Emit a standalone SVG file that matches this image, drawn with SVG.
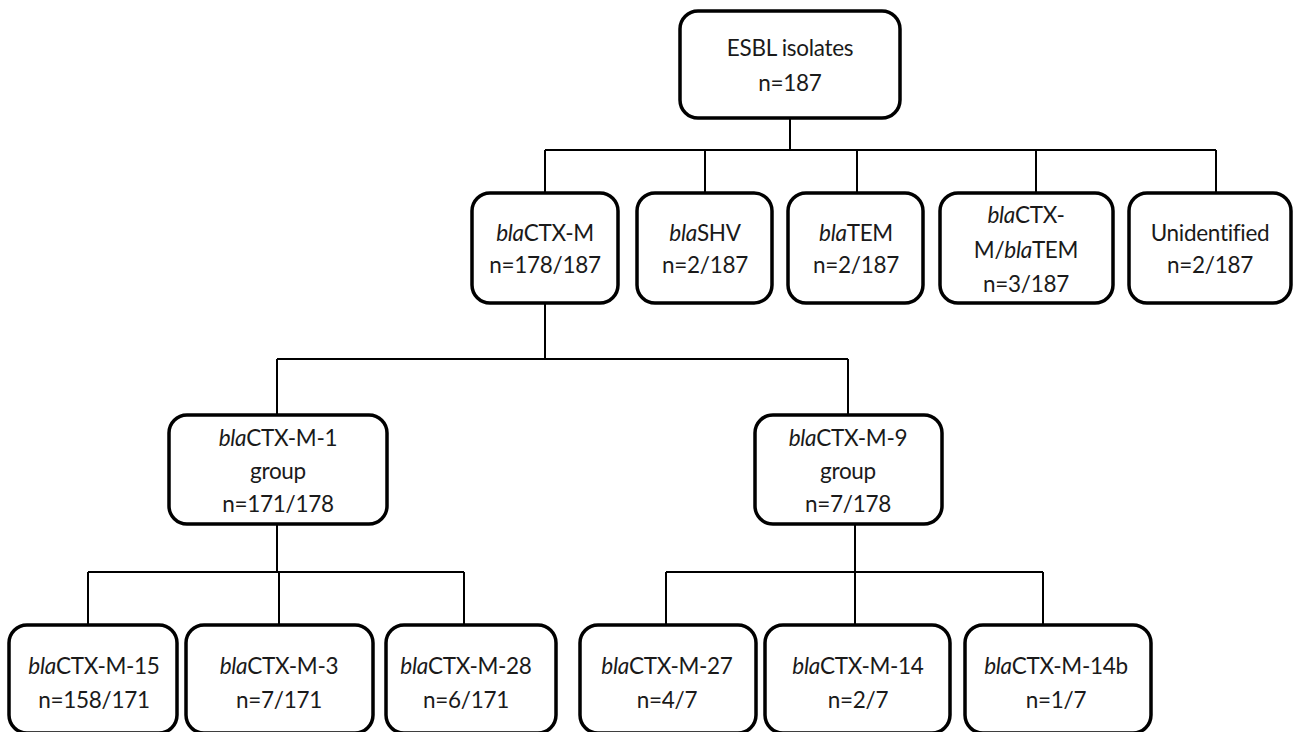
<svg xmlns="http://www.w3.org/2000/svg" width="1293" height="732" viewBox="0 0 1293 732">
<style>
.box{fill:#fff;stroke:#000;stroke-width:3.5}
.ln{fill:none;stroke:#000;stroke-width:2}
text{font-family:Lato,"Liberation Sans",Arial,sans-serif;font-size:22.5px;letter-spacing:-0.3px;fill:#1a1a1a;text-anchor:middle}
.i{font-style:italic}
</style>
<rect width="1293" height="732" fill="#fff"/>
<g id="connectors">
<path class="ln" d="M790 118V150M545 150H1216M545 150V193M705 150V193M857 150V193M1036 150V193M1216 150V193"/>
<path class="ln" d="M545 303V359M277 359H848M277 359V415M848 359V415"/>
<path class="ln" d="M277 524V572M88 572H464M88 572V625M279 572V625M464 572V625"/>
<path class="ln" d="M855 524V625M666 572H1043M666 572V625M1043 572V625"/>
</g>
<g id="esbl"><rect class="box" x="680" y="11" width="220" height="107" rx="18"/><text x="790" y="56">ESBL isolates</text><text x="790" y="91">n=187</text></g>
<g id="ctxm"><rect class="box" x="472" y="193" width="146" height="110" rx="18"/><text x="545" y="241"><tspan class="i">bla</tspan>CTX-M</text><text x="545" y="273">n=178/187</text></g>
<g id="shv"><rect class="box" x="637" y="193" width="135" height="110" rx="18"/><text x="705" y="241"><tspan class="i">bla</tspan>SHV</text><text x="705" y="273">n=2/187</text></g>
<g id="tem"><rect class="box" x="788" y="193" width="135" height="110" rx="18"/><text x="856" y="241"><tspan class="i">bla</tspan>TEM</text><text x="856" y="273">n=2/187</text></g>
<g id="ctxm-tem"><rect class="box" x="940" y="193" width="173" height="110" rx="18"/><text x="1026" y="223"><tspan class="i">bla</tspan>CTX-</text><text x="1026" y="258">M/<tspan class="i">bla</tspan>TEM</text><text x="1026" y="292">n=3/187</text></g>
<g id="unidentified"><rect class="box" x="1129" y="193" width="162" height="110" rx="18"/><text x="1210" y="241">Unidentified</text><text x="1210" y="273">n=2/187</text></g>
<g id="ctxm1"><rect class="box" x="169" y="415" width="218" height="109" rx="18"/><text x="278" y="446"><tspan class="i">bla</tspan>CTX-M-1</text><text x="278" y="479">group</text><text x="278" y="512">n=171/178</text></g>
<g id="ctxm9"><rect class="box" x="755" y="415" width="187" height="109" rx="18"/><text x="848" y="446"><tspan class="i">bla</tspan>CTX-M-9</text><text x="848" y="479">group</text><text x="848" y="512">n=7/178</text></g>
<g id="ctxm15"><rect class="box" x="9" y="625" width="168" height="108" rx="18"/><text x="94" y="674"><tspan class="i">bla</tspan>CTX-M-15</text><text x="94" y="708">n=158/171</text></g>
<g id="ctxm3"><rect class="box" x="186" y="625" width="187" height="108" rx="18"/><text x="279" y="674"><tspan class="i">bla</tspan>CTX-M-3</text><text x="279" y="708">n=7/171</text></g>
<g id="ctxm28"><rect class="box" x="386" y="625" width="170" height="108" rx="18"/><text x="466" y="674"><tspan class="i">bla</tspan>CTX-M-28</text><text x="466" y="708">n=6/171</text></g>
<g id="ctxm27"><rect class="box" x="580" y="625" width="176" height="108" rx="18"/><text x="667" y="674"><tspan class="i">bla</tspan>CTX-M-27</text><text x="667" y="708">n=4/7</text></g>
<g id="ctxm14"><rect class="box" x="765" y="625" width="185" height="108" rx="18"/><text x="858" y="674"><tspan class="i">bla</tspan>CTX-M-14</text><text x="858" y="708">n=2/7</text></g>
<g id="ctxm14b"><rect class="box" x="965" y="625" width="186" height="108" rx="18"/><text x="1056" y="674"><tspan class="i">bla</tspan>CTX-M-14b</text><text x="1056" y="708">n=1/7</text></g>
</svg>
